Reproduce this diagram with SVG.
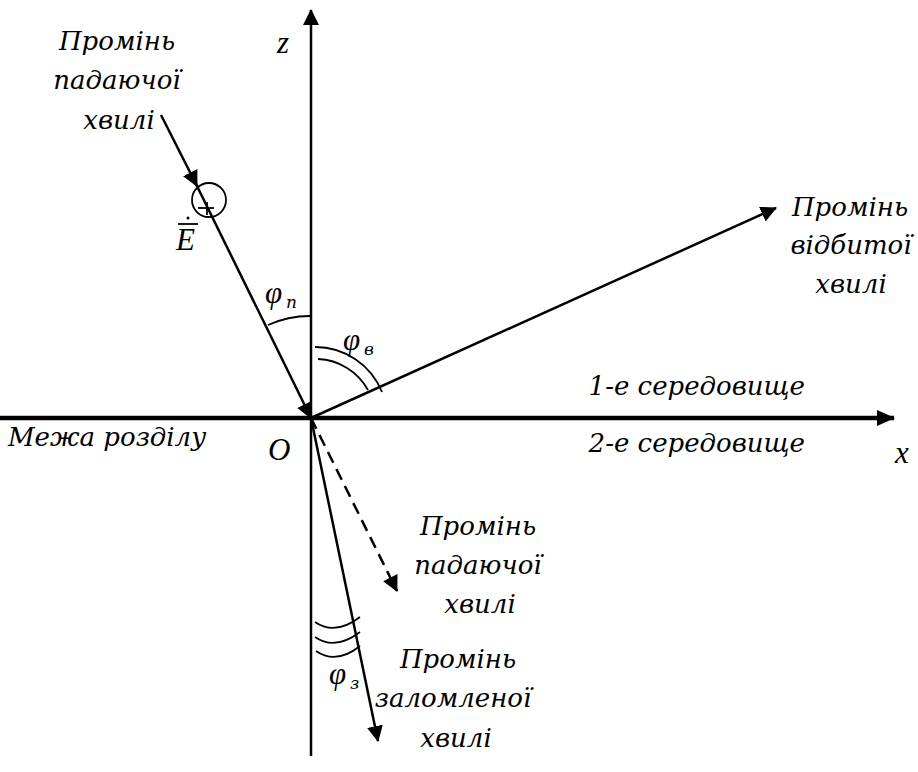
<svg xmlns="http://www.w3.org/2000/svg" width="918" height="772" viewBox="0 0 918 772">
<style>
text{font-family:"Liberation Serif","Times New Roman",serif;font-size:31px;fill:#000}
.cy{font-family:"DejaVu Serif","Liberation Serif",serif;font-size:26px;font-style:italic}
.it{font-style:italic}
.c{text-anchor:middle}
.e{text-anchor:end}
.ln{stroke:#000;stroke-width:2.5;fill:none}
.thin{stroke:#000;stroke-width:1.8;fill:none}
.sub{font-size:17px}
</style>
<defs>
<marker id="ah" markerWidth="16" markerHeight="16" viewBox="0 0 16 16" refX="15" refY="8" orient="auto" markerUnits="userSpaceOnUse">
<path d="M0,0 L16,8 L0,16 z" fill="#000"/>
</marker>
<marker id="ahb" markerWidth="18" markerHeight="16" viewBox="0 0 18 16" refX="17" refY="8" orient="auto" markerUnits="userSpaceOnUse">
<path d="M0,0 L18,8 L0,16 z" fill="#000"/>
</marker>
</defs>
<g id="connectors">
<line id="z-axis" class="ln" x1="311" y1="756" x2="311" y2="10" marker-end="url(#ah)"/>
<line id="x-axis" x1="0" y1="418" x2="894" y2="418" stroke="#000" stroke-width="4.5" marker-end="url(#ahb)"/>
<line id="incident-start" class="ln" x1="161" y1="115" x2="197" y2="186" marker-end="url(#ah)"/>
<line id="incident" class="ln" x1="195" y1="182" x2="311" y2="418" marker-end="url(#ah)"/>
<line id="reflected" class="ln" x1="311" y1="418" x2="776" y2="208" marker-end="url(#ah)"/>
<line id="refracted" class="ln" x1="311" y1="418" x2="378" y2="741" marker-end="url(#ah)"/>
<line id="continued" class="ln" x1="311" y1="418" x2="397" y2="591" stroke-dasharray="12,7" marker-end="url(#ah)"/>
</g>
<g id="angles">
<path class="thin" d="M268,325 A102,102 0 0 1 311,316"/>
<path class="thin" d="M318,359 A60,60 0 0 1 368,390"/>
<path class="thin" d="M315,347 A72,72 0 0 1 382,392"/>
<path class="thin" d="M315,622 Q335,636 360,617"/>
<path class="thin" d="M315,637 Q335,651 360,632"/>
<path class="thin" d="M316,651 Q336,665 360,646"/>
</g>
<g id="polarization">
<circle cx="209" cy="200" r="17" class="thin"/>
<line class="thin" x1="198" y1="208" x2="214" y2="208"/>
<line class="thin" x1="207" y1="202" x2="207" y2="215"/>
<line class="thin" x1="178" y1="224" x2="198" y2="224"/>
<circle cx="188" cy="218" r="1.5" fill="#000"/>
<text class="it" x="176" y="250">E</text>
</g>
<g id="labels">
<text class="it" x="277" y="53" font-size="30">z</text>
<text class="it" x="265" y="303">φ</text><text class="cy sub" x="286" y="308">п</text>
<text class="it" x="343" y="350">φ</text><text class="cy sub" x="364" y="355">в</text>
<text class="it" x="329" y="684">φ</text><text class="cy sub" x="350" y="689">з</text>
<text class="it" x="268" y="460">O</text>
<text class="it" x="895" y="463" font-size="30">x</text>
</g>
<g id="incident-label" class="cy">
<text class="cy c" x="117" y="50">Промінь</text>
<text class="cy c" x="117" y="89">падаючої</text>
<text class="cy c" x="119" y="129">хвилі</text>
</g>
<g id="reflected-label">
<text class="cy c" x="850" y="216">Промінь</text>
<text class="cy c" x="851" y="254">відбитої</text>
<text class="cy c" x="851" y="293">хвилі</text>
</g>
<g id="media-labels">
<text class="cy e" x="805" y="395">1-е середовище</text>
<text class="cy e" x="805" y="452">2-е середовище</text>
<text class="cy" x="8" y="446">Межа розділу</text>
</g>
<g id="continued-label">
<text class="cy c" x="478" y="535">Промінь</text>
<text class="cy c" x="478" y="574">падаючої</text>
<text class="cy c" x="480" y="613">хвилі</text>
</g>
<g id="refracted-label">
<text class="cy c" x="458" y="668">Промінь</text>
<text class="cy c" x="453" y="707">заломленої</text>
<text class="cy c" x="456" y="747">хвилі</text>
</g>
</svg>
